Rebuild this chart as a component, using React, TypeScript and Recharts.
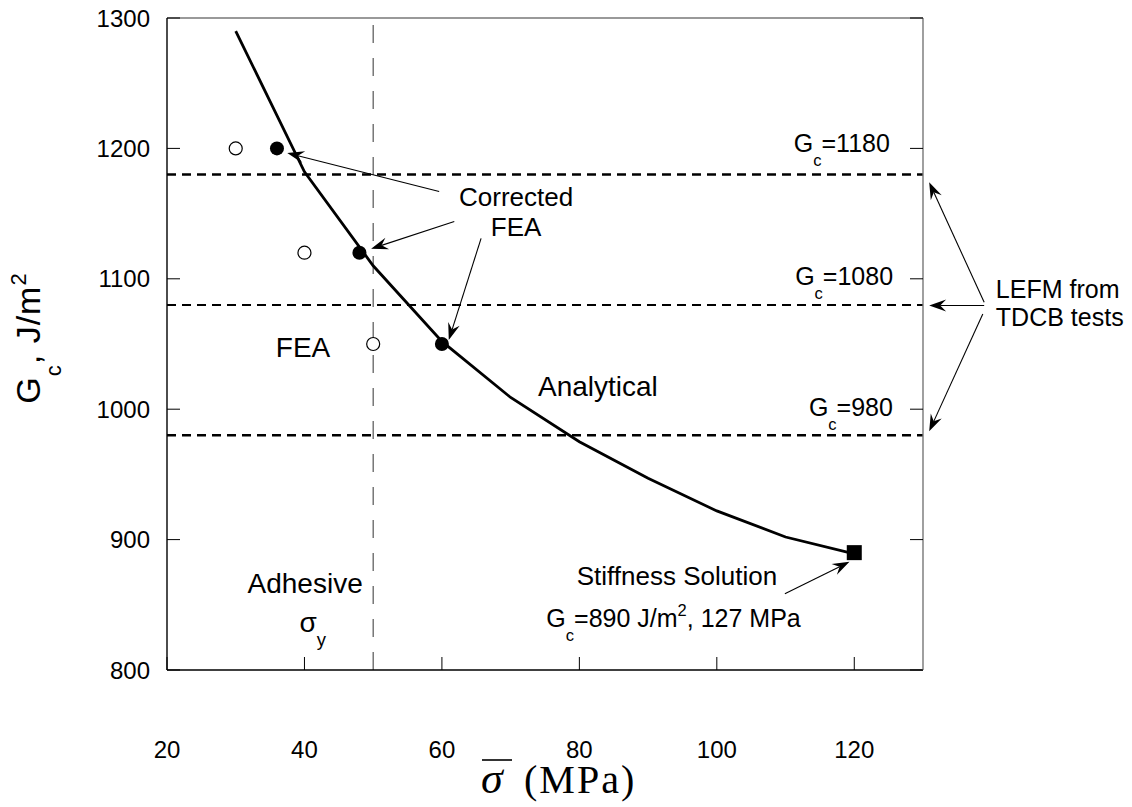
import React from "react";
import {
  ComposedChart,
  Line,
  Scatter,
  XAxis,
  YAxis,
  ReferenceLine,
  ReferenceDot,
} from "recharts";

const SANS = "'Liberation Sans', Arial, sans-serif";
const SERIF = "'Liberation Serif', 'Times New Roman', serif";

// analytical solution, Gc vs average adhesive stress
const analyticalStress = [30, 40, 50, 60, 70, 80, 90, 100, 110, 120];
const analyticalGc = [1290, 1182, 1110, 1052, 1009, 975, 947, 922, 902, 889];

// FEA (open) and corrected FEA (filled)
const feaStress = [30, 40, 50];
const feaGc = [1200, 1120, 1050];
const correctedStress = [36, 48, 60];
const correctedGc = [1200, 1120, 1050];

// stiffness solution
const stiffnessStress = [120];
const stiffnessGc = [890];

// LEFM levels from TDCB tests + adhesive yield stress
const lefmGc = [1180, 1080, 980];
const lefmWidth = [2.6, 2, 2.6];
const adhesiveYield = 50;

const xTicks = [20, 40, 60, 80, 100, 120];
const yTicks = [800, 900, 1000, 1100, 1200, 1300];

const zip = (xs: number[], ys: number[]) => xs.map((x, i) => ({ x, y: ys[i] }));

const analytical = zip(analyticalStress, analyticalGc);
const fea = zip(feaStress, feaGc);
const corrected = zip(correctedStress, correctedGc);
const stiffness = zip(stiffnessStress, stiffnessGc);

// annotation arrows, in data units
const arrows = [
  { from: [59.6, 1167], to: [37.5, 1196.5] },
  { from: [61.8, 1144], to: [49.7, 1123] },
  { from: [65.7, 1131], to: [61.0, 1053] },
  { from: [109.9, 858.5], to: [119.3, 883] },
  { from: [138.9, 1082], to: [130.9, 1174] },
  { from: [138.9, 1079.5], to: [130.9, 1079.5] },
  { from: [138.7, 1073], to: [130.9, 983] },
];

type Part = [string, ("sub" | "sup")?];
type Note = { x: number; y: number; anchor: "start" | "middle"; size: number; parts: Part[] };

const gcNote = (x: number, y: number, val: string): Note => ({
  x, y, anchor: "start", size: 25, parts: [["G"], ["c", "sub"], [val]],
});

const notes: Note[] = [
  { x: 70.8, y: 1155.5, anchor: "middle", size: 26, parts: [["Corrected"]] },
  { x: 70.8, y: 1132.5, anchor: "middle", size: 26, parts: [["FEA"]] },
  { x: 39.8, y: 1040, anchor: "middle", size: 28, parts: [["FEA"]] },
  { x: 82.7, y: 1010, anchor: "middle", size: 28, parts: [["Analytical"]] },
  gcNote(111.2, 1197, "=1180"),
  gcNote(111.4, 1095.5, "=1080"),
  gcNote(113.4, 994.5, "=980"),
  { x: 140.6, y: 1085.5, anchor: "start", size: 25, parts: [["LEFM from"]] },
  { x: 140.6, y: 1064, anchor: "start", size: 25, parts: [["TDCB tests"]] },
  { x: 94.2, y: 865.5, anchor: "middle", size: 26, parts: [["Stiffness Solution"]] },
  {
    x: 75.2, y: 833, anchor: "start", size: 25,
    parts: [["G"], ["c", "sub"], ["=890 J/m"], ["2", "sup"], [", 127 MPa"]],
  },
  { x: 40.1, y: 859, anchor: "middle", size: 28, parts: [["Adhesive"]] },
  { x: 41.2, y: 829, anchor: "middle", size: 28, parts: [["σ"], ["y", "sub"]] },
];

function RichText({ cx, cy, note }: { cx: number; cy: number; note: Note }) {
  let shift = 0;
  return (
    <text x={cx} y={cy} textAnchor={note.anchor} fontFamily={SANS} fontSize={note.size} fill="#000">
      {note.parts.map(([t, kind], i) => {
        const target = kind === "sub" ? 14 : kind === "sup" ? -11 : 0;
        const dy = target - shift;
        shift = target;
        return (
          <tspan key={i} dy={dy} fontSize={kind ? note.size * 0.66 : note.size}>
            {t}
          </tspan>
        );
      })}
    </text>
  );
}

function Arrow(props: any) {
  const { x1, y1, x2, y2 } = props;
  const a = Math.atan2(y2 - y1, x2 - x1);
  const c = Math.cos(a);
  const s = Math.sin(a);
  const len = 17;
  const half = 6;
  const notch = 11;
  const bx = x2 - len * c;
  const by = y2 - len * s;
  const nx = x2 - notch * c;
  const ny = y2 - notch * s;
  const pts = [
    [x2, y2],
    [bx - s * half, by + c * half],
    [nx, ny],
    [bx + s * half, by - c * half],
  ]
    .map((p) => p.join(","))
    .join(" ");
  return (
    <g>
      <line x1={x1} y1={y1} x2={nx} y2={ny} stroke="#000" strokeWidth={1.1} />
      <polygon points={pts} fill="#000" />
    </g>
  );
}

function YTitle(props: any) {
  const vb = props.viewBox || { x: 0, y: 10, width: 159, height: 652 };
  const cx = vb.x + 32;
  const cy = vb.y + vb.height / 2 - 6;
  return (
    <text
      transform="rotate(-90)"
      x={-cy}
      y={cx}
      textAnchor="middle"
      fontFamily={SANS}
      fontSize={34}
      letterSpacing={1}
      fill="#000"
    >
      <tspan>G</tspan>
      <tspan dy={21} fontSize={22}>c</tspan>
      <tspan dy={-21}>, J/m</tspan>
      <tspan dy={-14} fontSize={22}>2</tspan>
    </text>
  );
}

function XTitle(props: any) {
  const vb = props.viewBox || { x: 159, y: 662, width: 756, height: 137 };
  const sx = vb.x + 314;
  const base = vb.y + 123;
  return (
    <g>
      <text x={sx} y={base} fontFamily={SERIF} fontSize={44} fontStyle="italic" fill="#000">
        σ
      </text>
      <line x1={sx + 1} y1={base - 33} x2={sx + 31} y2={base - 33} stroke="#000" strokeWidth={1.6} />
      <text x={sx + 43} y={base} fontFamily={SERIF} fontSize={40} letterSpacing={2} fill="#000">
        (MPa)
      </text>
    </g>
  );
}

function XTick(props: any) {
  const { x, y, payload } = props;
  return (
    <text x={x} y={y} dy={17} textAnchor="middle" fontFamily={SANS} fontSize={24} fill="#000">
      {payload.value}
    </text>
  );
}

function YTick(props: any) {
  const { x, y, payload } = props;
  return (
    <text x={x} y={y} dy={8.5} textAnchor="end" fontFamily={SANS} fontSize={24} fill="#000">
      {payload.value}
    </text>
  );
}

// mirror axes keep their tick marks but show no labels
const NoLabel = () => <g />;

export default function App() {
  return (
    <div style={{ width: 1124, height: 799, fontFamily: SANS, background: "#fff" }}>
      <ComposedChart width={1124} height={799} margin={{ top: 9, right: 208, bottom: 0, left: 0 }}>
        <XAxis
          xAxisId={0}
          dataKey="x"
          type="number"
          domain={[20, 130]}
          allowDataOverflow
          ticks={xTicks}
          interval={0}
          height={137}
          tickSize={-13}
          tickMargin={84}
          tick={<XTick />}
          axisLine={{ stroke: "#000", strokeWidth: 1.4 }}
          tickLine={{ stroke: "#000" }}
          label={<XTitle />}
        />
        <XAxis
          xAxisId="top"
          orientation="top"
          type="number"
          domain={[20, 130]}
          allowDataOverflow
          ticks={xTicks}
          interval={0}
          height={1}
          tickSize={-13}
          tick={<NoLabel />}
          axisLine={{ stroke: "#777", strokeWidth: 1.4 }}
          tickLine={{ stroke: "#000" }}
        />
        <YAxis
          yAxisId={0}
          dataKey="y"
          type="number"
          domain={[800, 1300]}
          allowDataOverflow
          ticks={yTicks}
          interval={0}
          width={159}
          tickSize={-13}
          tickMargin={30}
          tick={<YTick />}
          axisLine={{ stroke: "#000", strokeWidth: 1.4 }}
          tickLine={{ stroke: "#000" }}
          label={<YTitle />}
        />
        <YAxis
          yAxisId="right"
          orientation="right"
          type="number"
          domain={[800, 1300]}
          allowDataOverflow
          ticks={yTicks}
          interval={0}
          width={1}
          tickSize={-13}
          tick={<NoLabel />}
          axisLine={{ stroke: "#777", strokeWidth: 1.4 }}
          tickLine={{ stroke: "#000" }}
        />

        <ReferenceLine
          x={adhesiveYield}
          stroke="#555"
          strokeWidth={1.2}
          strokeDasharray="18 15"
        />
        {lefmGc.map((g, i) => (
          <ReferenceLine
            key={g}
            y={g}
            stroke="#000"
            strokeWidth={lefmWidth[i]}
            strokeDasharray="9 6"
          />
        ))}

        <Line
          data={analytical}
          dataKey="y"
          type="linear"
          stroke="#000"
          strokeWidth={2.8}
          dot={false}
          activeDot={false}
          isAnimationActive={false}
        />
        <Scatter
          data={fea}
          dataKey="y"
          isAnimationActive={false}
          shape={(p: any) => (
            <circle cx={p.cx} cy={p.cy} r={6.5} fill="#fff" stroke="#000" strokeWidth={1.2} />
          )}
        />
        <Scatter
          data={corrected}
          dataKey="y"
          isAnimationActive={false}
          shape={(p: any) => <circle cx={p.cx} cy={p.cy} r={7} fill="#000" />}
        />
        <Scatter
          data={stiffness}
          dataKey="y"
          isAnimationActive={false}
          shape={(p: any) => <rect x={p.cx - 7.5} y={p.cy - 7.5} width={15} height={15} fill="#000" />}
        />

        {arrows.map((a, i) => (
          <ReferenceLine
            key={"ar" + i}
            segment={[
              { x: a.from[0], y: a.from[1] },
              { x: a.to[0], y: a.to[1] },
            ]}
            ifOverflow="visible"
            shape={Arrow}
          />
        ))}
        {notes.map((n, i) => (
          <ReferenceDot
            key={"n" + i}
            x={n.x}
            y={n.y}
            r={0}
            ifOverflow="visible"
            shape={(p: any) => <RichText cx={p.cx} cy={p.cy} note={n} />}
          />
        ))}
      </ComposedChart>
    </div>
  );
}
